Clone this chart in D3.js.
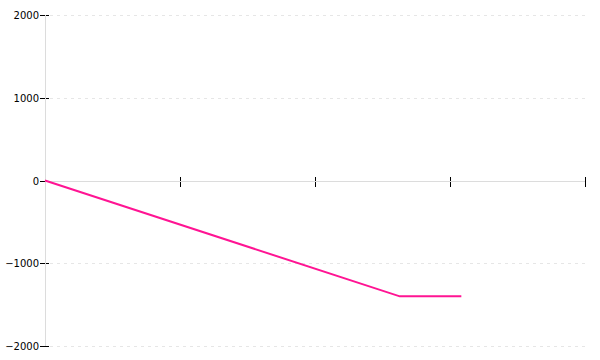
<!DOCTYPE html>
<html>
<head>
<meta charset="utf-8">
<script src="https://cdn.jsdelivr.net/npm/d3@7/dist/d3.min.js"></script>
<style>
  body { margin: 0; background: #fff; }
  svg { display: block; font-family: "DejaVu Sans", sans-serif; }
</style>
</head>
<body>
<div id="chart"></div>
<script>
// data
const xValues = [0, 65.7, 77.1];
const yValues = [0, -1400, -1400];
const xTicks = [0, 25, 50, 75, 100];
const yTicks = [-2000, -1000, 0, 1000, 2000];

const width = 600, height = 360;
const margin = {top: 15, right: 15, bottom: 14, left: 45};

const svg = d3.select("#chart").append("svg")
    .attr("width", width)
    .attr("height", height);

const x = d3.scaleLinear().domain([0, 100]).range([margin.left, width - margin.right]);
const y = d3.scaleLinear().domain([-2000, 2000]).range([height - margin.bottom, margin.top]);

// grid lines
svg.append("g")
  .selectAll("line")
  .data(yTicks.filter(d => d !== 0))
  .join("line")
    .attr("x1", margin.left + 5)
    .attr("x2", width - margin.right)
    .attr("y1", d => Math.round(y(d)) + 0.5)
    .attr("y2", d => Math.round(y(d)) + 0.5)
    .attr("stroke", "#e6e6e6")
    .attr("stroke-dasharray", "3,4");

// y axis ticks + labels
const yAxis = svg.append("g").attr("transform", `translate(${margin.left},0)`);
yAxis.selectAll("line.tick")
  .data(yTicks)
  .join("line")
    .attr("class", "tick")
    .attr("x1", -5).attr("x2", 4)
    .attr("y1", d => Math.round(y(d)) + 0.5)
    .attr("y2", d => Math.round(y(d)) + 0.5)
    .attr("stroke", "#000");
yAxis.selectAll("text")
  .data(yTicks)
  .join("text")
    .attr("x", -6)
    .attr("y", d => Math.round(y(d)) + 0.5)
    .attr("dy", "0.35em")
    .attr("text-anchor", "end")
    .attr("font-size", 10)
    .attr("fill", "#000")
    .text(d3.format("d"));

// x axis ticks (no labels)
svg.append("g")
  .selectAll("line")
  .data(xTicks)
  .join("line")
    .attr("x1", d => Math.round(x(d)) + 0.5)
    .attr("x2", d => Math.round(x(d)) + 0.5)
    .attr("y1", Math.round(y(0)) - 4)
    .attr("y2", Math.round(y(0)) + 6)
    .attr("stroke", "#000");

// domain lines drawn over ticks
svg.append("line")
    .attr("x1", Math.round(x(0)) + 0.5).attr("x2", Math.round(x(0)) + 0.5)
    .attr("y1", y(2000)).attr("y2", y(-2000))
    .attr("stroke", "#dcdcdc");
svg.append("line")
    .attr("x1", x(0)).attr("x2", x(100))
    .attr("y1", Math.round(y(0)) + 0.5).attr("y2", Math.round(y(0)) + 0.5)
    .attr("stroke", "#dcdcdc");

// series
const pts = xValues.map((v, i) => [v, yValues[i]]);
svg.append("path")
    .datum(pts)
    .attr("fill", "none")
    .attr("stroke", "#ff1493")
    .attr("stroke-width", 2)
    .attr("d", d3.line().x(d => x(d[0])).y(d => y(d[1])));
</script>
</body>
</html>
